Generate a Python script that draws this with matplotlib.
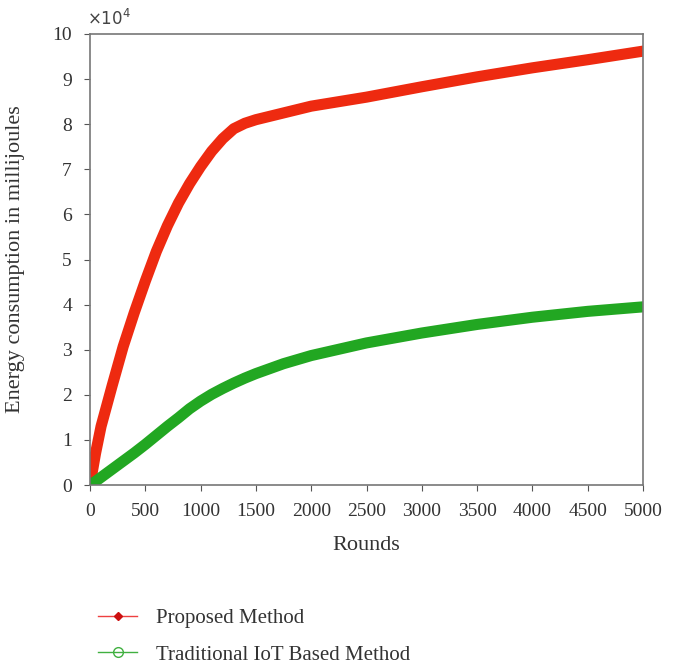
import matplotlib.pyplot as plt
import numpy as np

# values (energy in units of 1e4 mJ)
rounds = [0, 50, 100, 200, 300, 400, 500, 600, 700, 800, 900, 1000, 1100, 1200,
          1300, 1400, 1500, 1750, 2000, 2500, 3000, 3500, 4000, 4500, 5000]
proposed = [0.0, 0.7, 1.3, 2.2, 3.07, 3.82, 4.52, 5.18, 5.75, 6.25, 6.68, 7.06, 7.4, 7.68,
            7.9, 8.02, 8.1, 8.25, 8.4, 8.6, 8.83, 9.05, 9.25, 9.43, 9.62]
traditional = [0.0, 0.08, 0.17, 0.35, 0.53, 0.71, 0.9, 1.1, 1.3, 1.49, 1.69, 1.86, 2.01, 2.14,
               2.26, 2.37, 2.47, 2.69, 2.87, 3.15, 3.37, 3.56, 3.72, 3.85, 3.95]

plt.rcParams["font.family"] = ["Liberation Serif", "DejaVu Serif"]

fig = plt.figure(figsize=(6.81, 6.66), dpi=100)
ax = fig.add_axes([90 / 681, 1 - 485 / 666, 553 / 681, 451 / 666])

ax.plot(rounds, np.array(proposed) * 1e4, color="#ee2a10", lw=8,
        solid_capstyle="round", solid_joinstyle="round")
ax.plot(rounds, np.array(traditional) * 1e4, color="#22a722", lw=8,
        solid_capstyle="round", solid_joinstyle="round")

ax.set_xlim(0, 5000)
ax.set_ylim(0, 1e5)
ax.set_xticks(range(0, 5001, 500))
ax.set_yticks(np.arange(0, 1.01e5, 1e4))
ax.set_yticklabels([str(i) for i in range(11)])
ax.text(-0.005, 1.01, r"$\times10^4$", transform=ax.transAxes, fontsize=12,
        color="#444444", ha="left", va="bottom")

for s in ax.spines.values():
    s.set_color("#777777")
    s.set_linewidth(1.2)
ax.tick_params(colors="#555555", labelcolor="#333333", labelsize=14, length=4)
ax.tick_params(axis="y", pad=9)
ax.tick_params(axis="x", pad=9)

ax.set_xlabel("Rounds", fontsize=16, color="#333333")
ax.set_ylabel("Energy consumption in millijoules", fontsize=16, color="#333333")
ax.xaxis.set_label_coords(0.5, -(536 - 485) / 451)
ax.yaxis.set_label_coords(-(90 - 25) / 553, 0.5)

h1, = ax.plot([], [], color="#ee4040", lw=1, marker="D", markersize=4,
              markerfacecolor="#cc1010", markeredgecolor="#cc1010")
h2, = ax.plot([], [], color="#40b040", lw=1, marker="o", markersize=7,
              markerfacecolor="none", markeredgecolor="#40b040")
fig.legend([h1, h2], ["Proposed Method", "Traditional IoT Based Method"],
           loc="upper left", bbox_to_anchor=(79 / 681, 1 - 590 / 666),
           frameon=False, fontsize=15, handlelength=1.9, labelspacing=0.8,
           handletextpad=0.9, labelcolor="#333333")

fig.savefig("out.png", dpi=100)
